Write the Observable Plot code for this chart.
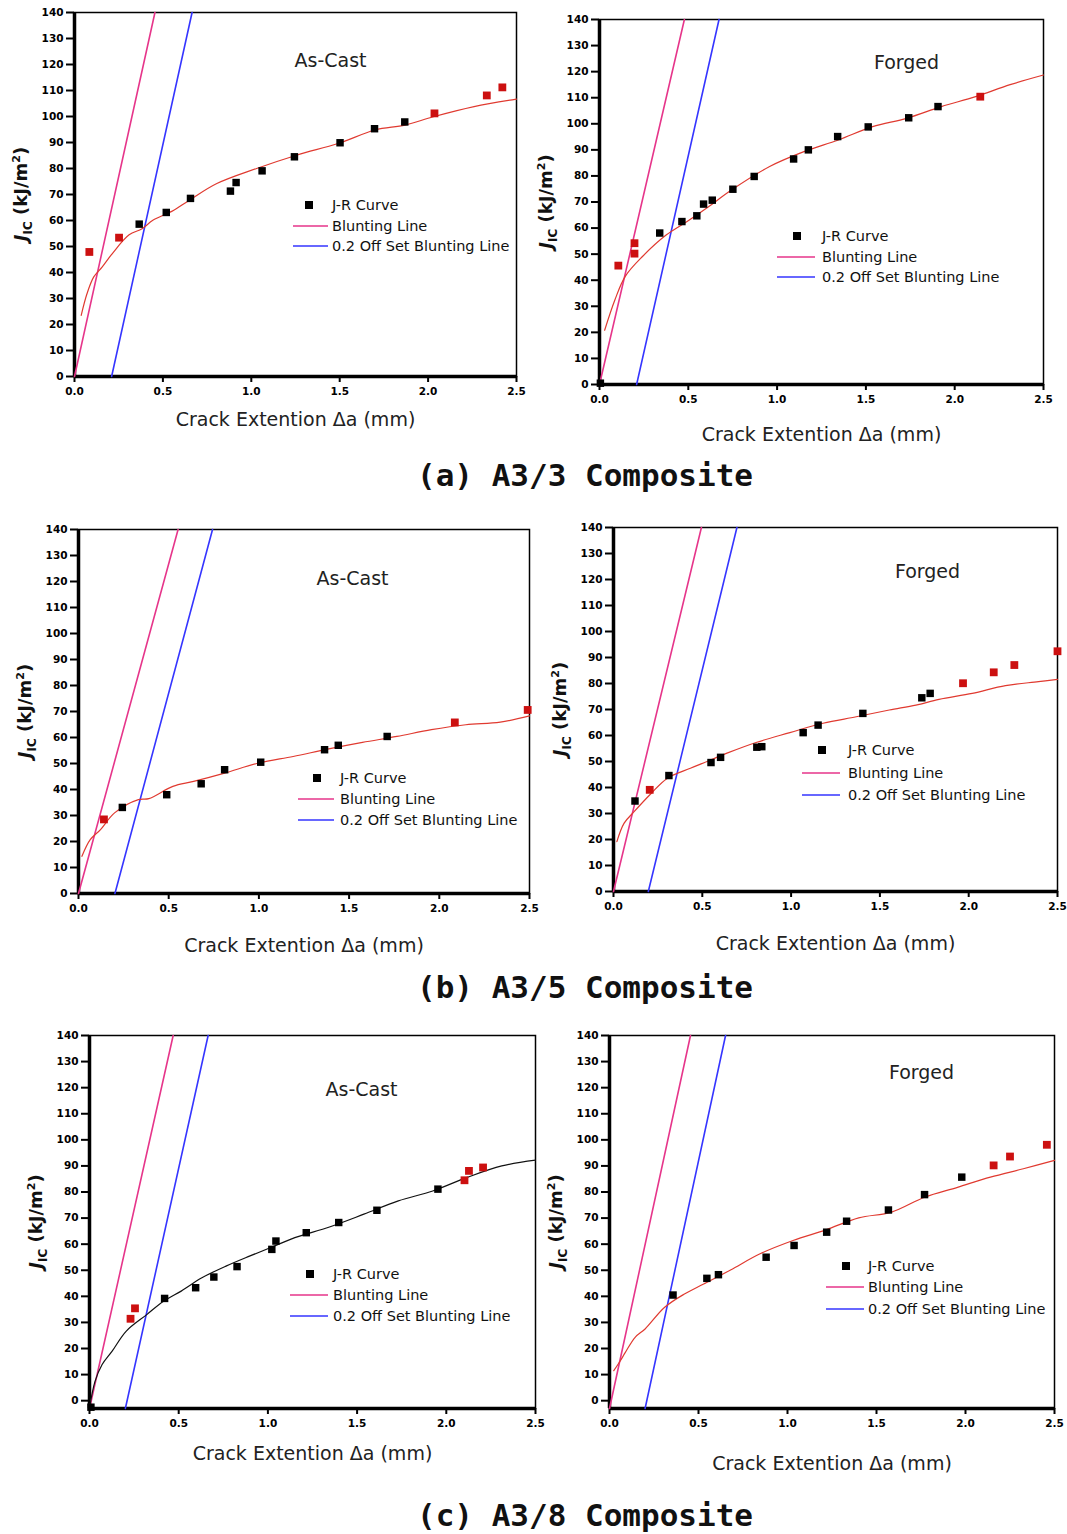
<!DOCTYPE html>
<html><head><meta charset="utf-8">
<script src="https://cdn.jsdelivr.net/npm/d3@7"></script>
<script src="https://cdn.jsdelivr.net/npm/@observablehq/plot@0.6"></script>
<style>
html,body{margin:0;padding:0;background:#fff;}
#page{position:relative;width:1067px;height:1534px;overflow:hidden;background:#fff;}
.panel{position:absolute;}
.caption{position:absolute;left:0;width:1170px;text-align:center;font-family:"DejaVu Sans Mono",monospace;font-weight:bold;font-size:31px;line-height:36px;color:#111;}
</style></head><body><div id="page"></div>
<script>
// ---------------- data ----------------
const xTicks = [0, 0.5, 1.0, 1.5, 2.0, 2.5];
const yTicks = [0, 10, 20, 30, 40, 50, 60, 70, 80, 90, 100, 110, 120, 130, 140];
const legendLabels = ["J-R Curve", "Blunting Line", "0.2 Off Set Blunting Line"];
const xTitle = "Crack Extention \u0394a (mm)";
const captions = ["(a) A3/3 Composite", "(b) A3/5 Composite", "(c) A3/8 Composite"];
const conditions = ["As-Cast", "Forged"];

// (a) A3/3 As-Cast
const a33CastValid = [[0.366,58.6],[0.519,63.1],[0.656,68.5],[0.882,71.3],[0.914,74.6],[1.061,79.1],[1.244,84.5],[1.502,89.9],[1.697,95.3],[1.868,97.9]];
const a33CastExcluded = [[0.084,47.9],[0.252,53.4],[2.036,101.2],[2.332,108.1],[2.42,111.2]];
const a33CastFit = [[0.038,23.5],[0.071,31.9],[0.109,38.3],[0.156,42.1],[0.214,47.3],[0.309,54.5],[0.382,56.8],[0.443,60.1],[0.55,63.5],[0.65,67.8],[0.805,74.2],[1.03,80.0],[1.26,85.2],[1.49,89.6],[1.7,94.8],[1.87,96.7],[2.03,99.9],[2.26,103.8],[2.5,106.7]];
const a33CastBlunt = [[0,0],[0.455,140]];
const a33CastOffset = [[0.21,0],[0.665,140]];

// (a) A3/3 Forged
const a33ForgedValid = [[0.005,0.5],[0.339,58.1],[0.464,62.5],[0.548,64.7],[0.586,69.2],[0.635,70.7],[0.751,74.9],[0.871,79.8],[1.093,86.5],[1.176,90.0],[1.341,95.1],[1.513,98.8],[1.741,102.3],[1.906,106.6]];
const a33ForgedExcluded = [[0.106,45.6],[0.197,54.2],[0.197,50.2],[2.144,110.4]];
const a33ForgedFit = [[0.029,20.8],[0.087,32.5],[0.145,41.5],[0.242,49.1],[0.377,57.4],[0.493,62.5],[0.61,68],[0.745,74.7],[0.958,83.6],[1.151,89.3],[1.345,93.8],[1.538,98.9],[1.73,102.1],[1.925,106.6],[2.118,110.4],[2.312,115.0],[2.5,118.7]];
const a33ForgedBlunt = [[0,0],[0.478,140]];
const a33ForgedOffset = [[0.209,0],[0.673,140]];

// (b) A3/5 As-Cast
const a35CastValid = [[0.243,33.1],[0.489,38.0],[0.68,42.2],[0.81,47.6],[1.01,50.5],[1.364,55.3],[1.44,57.0],[1.711,60.4]];
const a35CastExcluded = [[0.141,28.5],[2.086,65.8],[2.49,70.6]];
const a35CastFit = [[0.019,14.3],[0.065,20.7],[0.122,24.6],[0.2,31],[0.332,36.1],[0.39,36.5],[0.523,41.2],[0.638,43.1],[0.81,46.3],[1.0,50.2],[1.19,52.7],[1.38,55.5],[1.574,58.1],[1.765,60.4],[1.956,63.0],[2.147,64.9],[2.338,65.9],[2.5,68.3]];
const a35CastBlunt = [[0,0],[0.552,140]];
const a35CastOffset = [[0.202,0],[0.743,140]];

// (b) A3/5 Forged
const a35ForgedValid = [[0.121,34.8],[0.312,44.6],[0.549,49.6],[0.603,51.6],[0.807,55.5],[0.835,55.7],[1.068,61.1],[1.152,64.0],[1.404,68.5],[1.736,74.5],[1.783,76.2]];
const a35ForgedExcluded = [[0.204,39.1],[1.968,80.1],[2.141,84.3],[2.257,87.1],[2.5,92.4]];
const a35ForgedFit = [[0.019,19.2],[0.06,26.3],[0.116,30.7],[0.209,37.5],[0.302,43.5],[0.433,47.4],[0.527,50],[0.639,53.2],[0.807,57.4],[0.993,61.1],[1.18,64.7],[1.367,67.2],[1.553,69.8],[1.703,71.7],[1.833,73.9],[2.02,76.2],[2.207,79.2],[2.393,80.7],[2.5,81.6]];
const a35ForgedBlunt = [[0,0],[0.495,140]];
const a35ForgedOffset = [[0.196,0],[0.695,140]];

// (c) A3/8 As-Cast
const a38CastValid = [[0.008,-2.5],[0.421,39.2],[0.595,43.3],[0.697,47.4],[0.827,51.4],[1.022,58.0],[1.045,61.2],[1.215,64.4],[1.397,68.3],[1.611,73.0],[1.953,81.1]];
const a38CastExcluded = [[0.23,31.4],[0.255,35.4],[2.102,84.5],[2.127,88.1],[2.206,89.4]];
const a38CastFit = [[0,-2.8],[0.031,7.4],[0.07,13.8],[0.127,19.0],[0.205,26.6],[0.321,33.0],[0.417,38.2],[0.514,42.0],[0.63,47.1],[0.765,51.6],[0.9,55.5],[1.016,58.7],[1.151,62.5],[1.345,66.6],[1.538,71.5],[1.731,76.6],[1.924,80.4],[2.117,85.6],[2.311,90.0],[2.5,92.2]];
const a38CastBlunt = [[0,-3],[0.469,140]];
const a38CastOffset = [[0.201,-3],[0.665,140]];

// (c) A3/8 Forged
const a38ForgedValid = [[0.357,40.5],[0.547,46.9],[0.612,48.3],[0.88,55.0],[1.037,59.5],[1.22,64.6],[1.332,68.8],[1.567,73.1],[1.77,79.0],[1.979,85.7]];
const a38ForgedExcluded = [[2.158,90.2],[2.25,93.6],[2.457,98.1]];
const a38ForgedFit = [[0.024,11.5],[0.061,15.3],[0.089,18.5],[0.144,24.3],[0.2,27.5],[0.31,35.8],[0.421,40.9],[0.532,44.8],[0.68,50.1],[0.846,56.3],[1.031,61.4],[1.216,65.5],[1.4,70.1],[1.585,72.3],[1.77,78.0],[1.955,81.8],[2.14,85.7],[2.325,88.9],[2.5,92.1]];
const a38ForgedBlunt = [[0,-3],[0.455,140]];
const a38ForgedOffset = [[0.2,-3],[0.652,140]];

// ---------------- layout / style ----------------
const PINK = "#e6358a", BLUE = "#3535ff", REDLINE = "#e03a30", REDPT = "#cc1010";
const M = {top: 14, left: 72, right: 6, bottom: 72};

const panels = [
  {L:74, T:12, W:442, H:364, yMin:0, valid:a33CastValid, excluded:a33CastExcluded, fit:a33CastFit, fitColor:REDLINE, blunt:a33CastBlunt, offset:a33CastOffset, title:conditions[0], tpos:[256,48], xdy:43, lg:{mx:235,my:193,l0:219,l1:254,y2:214,y3:234,tx:258}},
  {L:599, T:19, W:444, H:365, yMin:0, valid:a33ForgedValid, excluded:a33ForgedExcluded, fit:a33ForgedFit, fitColor:REDLINE, blunt:a33ForgedBlunt, offset:a33ForgedOffset, title:conditions[1], tpos:[307,43], xdy:50, lg:{mx:198,my:217,l0:178,l1:216,y2:238,y3:258,tx:223}},
  {L:78, T:529, W:451, H:364, yMin:0, valid:a35CastValid, excluded:a35CastExcluded, fit:a35CastFit, fitColor:REDLINE, blunt:a35CastBlunt, offset:a35CastOffset, title:conditions[0], tpos:[274,49], xdy:52, lg:{mx:239,my:249,l0:220,l1:256,y2:270,y3:291,tx:262}},
  {L:613, T:527, W:444, H:364, yMin:0, valid:a35ForgedValid, excluded:a35ForgedExcluded, fit:a35ForgedFit, fitColor:REDLINE, blunt:a35ForgedBlunt, offset:a35ForgedOffset, title:conditions[1], tpos:[314,44], xdy:52, lg:{mx:209,my:223,l0:189,l1:227,y2:246,y3:268,tx:235}},
  {L:89, T:1035, W:446, H:373, yMin:-3, valid:a38CastValid, excluded:a38CastExcluded, fit:a38CastFit, fitColor:"#111", blunt:a38CastBlunt, offset:a38CastOffset, title:conditions[0], tpos:[272,54], xdy:45, lg:{mx:221,my:239,l0:201,l1:239,y2:260,y3:281,tx:244}},
  {L:609, T:1035, W:445, H:373, yMin:-3, valid:a38ForgedValid, excluded:a38ForgedExcluded, fit:a38ForgedFit, fitColor:REDLINE, blunt:a38ForgedBlunt, offset:a38ForgedOffset, title:conditions[1], tpos:[312,37], xdy:55, lg:{mx:237,my:231,l0:217,l1:255,y2:252,y3:274,tx:259}}
];
const captionY = [475, 987, 1515];

const page = document.getElementById("page");
const X = d => d[0], Y = d => d[1];

for (const p of panels) {
  const yDomain = [p.yMin, 140];
  const svg = Plot.plot({
    width: p.W + M.left + M.right,
    height: p.H + M.top + M.bottom,
    marginTop: M.top, marginLeft: M.left, marginRight: M.right, marginBottom: M.bottom,
    x: {domain: [0, 2.5], ticks: xTicks, tickFormat: d3.format(".1f"), tickSize: 6, tickPadding: 5, label: null},
    y: {domain: yDomain, ticks: yTicks, tickSize: 8, tickPadding: 3, label: null},
    style: {fontFamily: "'DejaVu Sans', sans-serif", fontSize: "10.5px", fontWeight: "bold", background: "transparent", color: "black", overflow: "visible"},
    marks: [
      Plot.frame({stroke: "black", strokeWidth: 1.5}),
      Plot.ruleX([0], {stroke: "black", strokeWidth: 3.5}),
      Plot.ruleY([yDomain[0]], {stroke: "black", strokeWidth: 3.5}),
      Plot.line(p.blunt, {x: X, y: Y, stroke: PINK, strokeWidth: 1.6}),
      Plot.line(p.offset, {x: X, y: Y, stroke: BLUE, strokeWidth: 1.6}),
      Plot.line(p.fit, {x: X, y: Y, stroke: p.fitColor, strokeWidth: 1.2, curve: "catmull-rom"}),
      Plot.dot(p.valid, {x: X, y: Y, symbol: "square", r: 4.2, fill: "black"}),
      Plot.dot(p.excluded, {x: X, y: Y, symbol: "square", r: 4.4, fill: REDPT}),
      Plot.text([p.title], {text: d => d, frameAnchor: "top-left", dx: p.tpos[0], dy: p.tpos[1], lineAnchor: "middle", fontSize: 19, fontWeight: "normal", textAnchor: "middle", fill: "#222"}),
      Plot.text([xTitle], {text: d => d, frameAnchor: "bottom", dy: p.xdy, lineAnchor: "middle", fontSize: 19, fontWeight: "normal", fill: "#222"})
    ]
  });
  // thicker tick marks
  d3.select(svg).selectAll("g[aria-label$='axis'] path, g[aria-label$='axis'] line, g[aria-label*='tick'] path").attr("stroke-width", 2);

  // y-axis title with subscript/superscript
  const yt = d3.select(svg).append("text")
    .attr("transform", `translate(${M.left - 47},${M.top + p.H / 2}) rotate(-90)`)
    .attr("text-anchor", "middle")
    .attr("font-family", "'DejaVu Sans', sans-serif")
    .attr("font-size", 18).attr("font-weight", "bold").attr("fill", "#111");
  yt.append("tspan").attr("font-style", "italic").text("J");
  yt.append("tspan").attr("font-size", 12).attr("dy", 5).text("IC");
  yt.append("tspan").attr("dy", -5).text(" (kJ/m");
  yt.append("tspan").attr("font-size", 11).attr("dy", -7).text("2");
  yt.append("tspan").attr("dy", 7).text(")");

  // legend
  const lg = d3.select(svg).append("g")
    .attr("transform", `translate(${M.left},${M.top})`)
    .attr("font-family", "'DejaVu Sans', sans-serif")
    .attr("text-anchor", "start")
    .attr("font-size", 14.5).attr("font-weight", "normal").attr("fill", "#111");
  const s = p.lg;
  lg.append("rect").attr("x", s.mx - 4).attr("y", s.my - 4).attr("width", 8).attr("height", 8).attr("fill", "black");
  lg.append("line").attr("x1", s.l0).attr("x2", s.l1).attr("y1", s.y2).attr("y2", s.y2).attr("stroke", PINK).attr("stroke-width", 1.6);
  lg.append("line").attr("x1", s.l0).attr("x2", s.l1).attr("y1", s.y3).attr("y2", s.y3).attr("stroke", BLUE).attr("stroke-width", 1.6);
  [s.my, s.y2, s.y3].forEach((yy, i) => {
    lg.append("text").attr("x", s.tx).attr("y", yy).attr("dy", "0.35em").attr("text-anchor", "start").text(legendLabels[i]);
  });

  const div = document.createElement("div");
  div.className = "panel";
  div.style.left = (p.L - M.left) + "px";
  div.style.top = (p.T - M.top) + "px";
  div.appendChild(svg);
  page.appendChild(div);
}

captions.forEach((c, i) => {
  const d = document.createElement("div");
  d.className = "caption";
  d.style.top = (captionY[i] - 18) + "px";
  d.textContent = c;
  page.appendChild(d);
});
</script></body></html>
